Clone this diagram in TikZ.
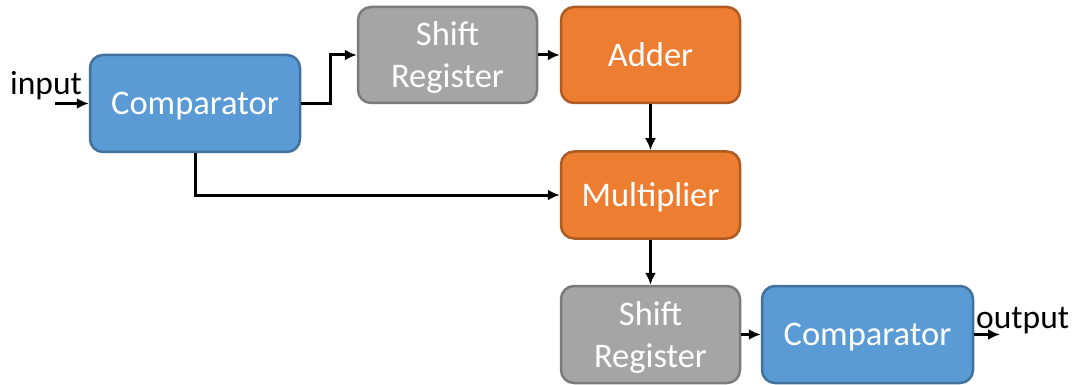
\documentclass[tikz,border=0pt]{standalone}
\usepackage{fontspec}
\setmainfont{Carlito}
\usetikzlibrary{arrows.meta}
\definecolor{bluefill}{HTML}{5B9BD5}
\definecolor{blueline}{HTML}{41719C}
\definecolor{grayfill}{HTML}{A5A5A5}
\definecolor{grayline}{HTML}{7B7B7B}
\definecolor{orangefill}{HTML}{ED7D31}
\definecolor{orangeline}{HTML}{AE5A21}
\tikzset{
  blk/.style={rounded corners=13pt, line width=2.5pt, text=white, align=center,
    font=\fontsize{34.5}{42}\selectfont, inner sep=0pt, text depth=0pt},
  bluebox/.style={blk, fill=bluefill, draw=blueline},
  graybox/.style={blk, fill=grayfill, draw=grayline},
  orangebox/.style={blk, fill=orangefill, draw=orangeline},
  conn/.style={line width=3pt, -{Latex[length=12pt,width=11pt]}},
  lbl/.style={font=\fontsize{33.5}{38}\selectfont, inner sep=0pt}
}
\begin{document}
\begin{tikzpicture}[x=1pt,y=-1pt]
\useasboundingbox (0,0) rectangle (1079,385);
\node[bluebox, minimum width=210pt, minimum height=97pt] (cmp1) at (195,103.5) {Comparator};
\node[graybox, minimum width=179pt, minimum height=96pt] (sr1) at (447.5,55) {Shift\\Register};
\node[orangebox, minimum width=179pt, minimum height=96pt] (add) at (650.5,55) {Adder};
\node[orangebox, minimum width=179pt, minimum height=87pt] (mul) at (650.5,195) {Multiplier};
\node[graybox, minimum width=179pt, minimum height=97pt] (sr2) at (650.5,334.5) {Shift\\Register};
\node[bluebox, minimum width=211pt, minimum height=97pt] (cmp2) at (867.5,334.5) {Comparator};
\coordinate (in) at (55,103.5);
\coordinate (out) at (1000,334.5);
\node[lbl, anchor=base west] (inlbl) at (10,95) {input};
\node[lbl, anchor=base west] (outlbl) at (976,328) {output};
\draw[conn] (in) -- (cmp1.west);
\draw[conn] (cmp1.east) -- (330,103.5) |- (sr1.west);
\draw[conn] (sr1.east) -- (add.west);
\draw[conn] (add.south) -- (mul.north);
\draw[conn] (cmp1.south) |- (mul.west);
\draw[conn] (mul.south) -- (sr2.north);
\draw[conn] (sr2.east) -- (cmp2.west);
\draw[conn] (cmp2.east) -- (out);
\end{tikzpicture}
\end{document}
